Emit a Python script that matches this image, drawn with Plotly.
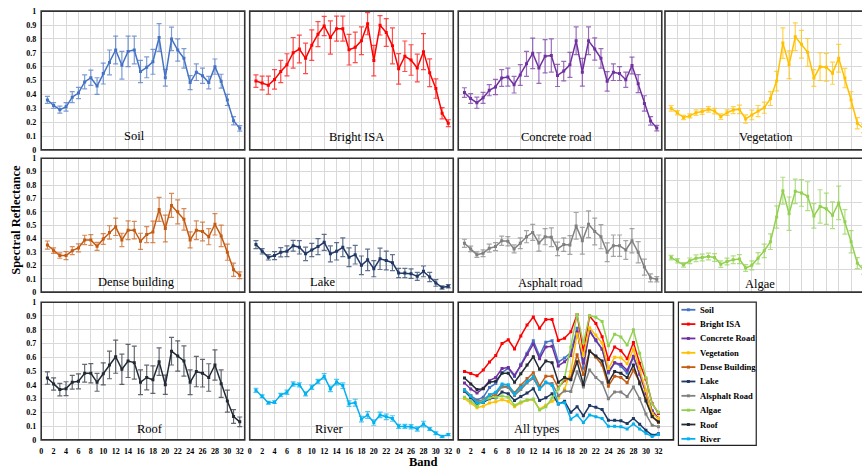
import plotly.graph_objects as go

W, H = 862, 473
bands = list(range(1, 33))

# Mean spectral reflectance per land-cover class and the standard deviations
soil = [0.36, 0.32, 0.29, 0.31, 0.38, 0.41, 0.49, 0.52, 0.46, 0.55, 0.63, 0.72, 0.61, 0.71, 0.72, 0.565,
        0.595, 0.635, 0.81, 0.52, 0.80, 0.72, 0.66, 0.485, 0.56, 0.535, 0.485, 0.60, 0.495, 0.36, 0.21, 0.155]
soil_err = [0.025, 0.02, 0.025, 0.03, 0.04, 0.04, 0.05, 0.055, 0.06, 0.075, 0.09, 0.1, 0.1, 0.11, 0.1, 0.08,
            0.075, 0.09, 0.1, 0.06, 0.085, 0.08, 0.07, 0.05, 0.06, 0.055, 0.045, 0.055, 0.05, 0.04, 0.03, 0.02]

bright_isa = [0.496, 0.482, 0.466, 0.508, 0.565, 0.613, 0.70, 0.727, 0.66, 0.755, 0.834, 0.893, 0.81, 0.874, 0.874, 0.722,
              0.739, 0.786, 0.91, 0.644, 0.898, 0.846, 0.75, 0.584, 0.675, 0.648, 0.59, 0.708, 0.556, 0.442, 0.264, 0.192]
bright_isa_err = [0.045, 0.05, 0.065, 0.07, 0.08, 0.08, 0.11, 0.1, 0.11, 0.11, 0.09, 0.07, 0.12, 0.09, 0.09, 0.11,
                  0.11, 0.1, 0.08, 0.11, 0.07, 0.1, 0.13, 0.11, 0.11, 0.11, 0.1, 0.13, 0.1, 0.07, 0.04, 0.025]

concrete = [0.413, 0.37, 0.34, 0.375, 0.43, 0.453, 0.518, 0.525, 0.47, 0.54, 0.62, 0.696, 0.59, 0.675, 0.68, 0.537,
            0.568, 0.613, 0.786, 0.56, 0.786, 0.727, 0.66, 0.494, 0.56, 0.55, 0.506, 0.608, 0.477, 0.335, 0.209, 0.157]
concrete_err = [0.035, 0.035, 0.04, 0.04, 0.04, 0.055, 0.06, 0.065, 0.06, 0.075, 0.09, 0.11, 0.11, 0.12, 0.12, 0.08,
                0.07, 0.09, 0.1, 0.1, 0.1, 0.08, 0.07, 0.07, 0.06, 0.05, 0.055, 0.06, 0.065, 0.055, 0.03, 0.02]

vegetation = [0.30, 0.268, 0.233, 0.245, 0.268, 0.276, 0.292, 0.28, 0.24, 0.268, 0.287, 0.292, 0.223, 0.252, 0.28, 0.304,
              0.37, 0.496, 0.77, 0.613, 0.815, 0.762, 0.703, 0.518, 0.60, 0.596, 0.553, 0.66, 0.518, 0.359, 0.192, 0.155]
vegetation_err = [0.02, 0.015, 0.015, 0.015, 0.02, 0.02, 0.02, 0.02, 0.02, 0.02, 0.025, 0.03, 0.03, 0.035, 0.04, 0.04,
                  0.05, 0.07, 0.11, 0.1, 0.1, 0.1, 0.1, 0.06, 0.1, 0.1, 0.08, 0.1, 0.07, 0.06, 0.04, 0.03]

dense_building = [0.352, 0.31, 0.273, 0.273, 0.31, 0.33, 0.39, 0.39, 0.342, 0.397, 0.446, 0.488, 0.39, 0.463, 0.463, 0.38,
                  0.43, 0.45, 0.618, 0.475, 0.648, 0.60, 0.544, 0.39, 0.463, 0.453, 0.414, 0.507, 0.42, 0.298, 0.167, 0.126]
dense_building_err = [0.03, 0.02, 0.02, 0.03, 0.03, 0.03, 0.035, 0.04, 0.03, 0.04, 0.05, 0.065, 0.05, 0.07, 0.065, 0.06,
                      0.06, 0.08, 0.09, 0.1, 0.09, 0.09, 0.08, 0.06, 0.07, 0.07, 0.06, 0.08, 0.08, 0.06, 0.05, 0.025]

lake = [0.355, 0.305, 0.26, 0.273, 0.298, 0.305, 0.347, 0.335, 0.286, 0.315, 0.34, 0.372, 0.286, 0.305, 0.335, 0.26,
        0.28, 0.20, 0.241, 0.175, 0.249, 0.236, 0.22, 0.143, 0.143, 0.138, 0.118, 0.155, 0.113, 0.069, 0.034, 0.044]
lake_err = [0.03, 0.02, 0.02, 0.03, 0.035, 0.04, 0.04, 0.05, 0.05, 0.05, 0.06, 0.06, 0.06, 0.065, 0.07, 0.07,
            0.07, 0.07, 0.08, 0.06, 0.08, 0.07, 0.06, 0.035, 0.035, 0.035, 0.03, 0.04, 0.035, 0.025, 0.012, 0.012]

asphalt = [0.365, 0.323, 0.28, 0.29, 0.328, 0.34, 0.384, 0.38, 0.323, 0.365, 0.414, 0.446, 0.367, 0.414, 0.41, 0.323,
           0.355, 0.352, 0.495, 0.384, 0.507, 0.453, 0.414, 0.298, 0.347, 0.347, 0.315, 0.384, 0.298, 0.187, 0.106, 0.096]
asphalt_err = [0.03, 0.02, 0.02, 0.025, 0.03, 0.03, 0.035, 0.035, 0.03, 0.04, 0.045, 0.06, 0.06, 0.06, 0.07, 0.05,
               0.05, 0.07, 0.1, 0.1, 0.1, 0.1, 0.09, 0.07, 0.08, 0.08, 0.07, 0.09, 0.08, 0.06, 0.03, 0.02]

algae = [0.31, 0.281, 0.245, 0.281, 0.304, 0.31, 0.319, 0.31, 0.251, 0.275, 0.29, 0.296, 0.216, 0.24, 0.304, 0.37,
         0.452, 0.674, 0.91, 0.703, 0.904, 0.89, 0.86, 0.683, 0.768, 0.748, 0.689, 0.80, 0.63, 0.452, 0.26, 0.20]
algae_err = [0.02, 0.02, 0.02, 0.025, 0.03, 0.03, 0.03, 0.035, 0.03, 0.03, 0.035, 0.04, 0.03, 0.04, 0.05, 0.06,
             0.07, 0.1, 0.12, 0.15, 0.11, 0.12, 0.13, 0.11, 0.15, 0.14, 0.12, 0.15, 0.11, 0.1, 0.05, 0.04]

roof = [0.449, 0.406, 0.365, 0.372, 0.418, 0.425, 0.484, 0.484, 0.418, 0.48, 0.544, 0.604, 0.513, 0.573, 0.561, 0.418,
        0.453, 0.437, 0.568, 0.40, 0.644, 0.609, 0.573, 0.418, 0.496, 0.484, 0.453, 0.544, 0.408, 0.282, 0.17, 0.131]
roof_err = [0.045, 0.045, 0.045, 0.05, 0.05, 0.055, 0.065, 0.07, 0.065, 0.08, 0.1, 0.12, 0.11, 0.12, 0.12, 0.09,
            0.09, 0.1, 0.1, 0.07, 0.1, 0.11, 0.11, 0.09, 0.11, 0.1, 0.1, 0.11, 0.1, 0.08, 0.05, 0.035]

river = [0.36, 0.317, 0.27, 0.274, 0.325, 0.346, 0.406, 0.40, 0.334, 0.382, 0.425, 0.461, 0.37, 0.42, 0.394, 0.263,
         0.27, 0.15, 0.181, 0.126, 0.181, 0.167, 0.155, 0.098, 0.098, 0.095, 0.079, 0.115, 0.079, 0.048, 0.024, 0.038]
river_err = [0.015, 0.01, 0.01, 0.01, 0.012, 0.015, 0.015, 0.015, 0.015, 0.015, 0.015, 0.02, 0.02, 0.02, 0.02, 0.02,
             0.025, 0.02, 0.025, 0.02, 0.02, 0.02, 0.02, 0.015, 0.015, 0.015, 0.015, 0.02, 0.01, 0.01, 0.008, 0.008]

panel_titles = ["Soil", "Bright ISA", "Concrete road", "Vegetation", "Dense building", "Lake",
                "Asphalt road", "Algae", "Roof", "River"]
legend_names = ["Soil", "Bright ISA", "Concrete Road", "Vegetation", "Dense Building", "Lake",
                "Alsphalt Road", "Algae", "Roof", "River"]
colors = ["#4472C4", "#FF0000", "#7030A0", "#FFC000", "#C55A11", "#203864",
          "#808080", "#92D050", "#222A35", "#00B0F0"]
means = [soil, bright_isa, concrete, vegetation, dense_building, lake, asphalt, algae, roof, river]
stds = [soil_err, bright_isa_err, concrete_err, vegetation_err, dense_building_err, lake_err,
        asphalt_err, algae_err, roof_err, river_err]
y_tick_labels = ["0", "0.1", "0.2", "0.3", "0.4", "0.5", "0.6", "0.7", "0.8", "0.9", "1"]
x_tick_labels = [str(v) for v in range(0, 33, 2)]

SERIF = "Liberation Serif"

# Panel frames in pixels: (left, right, top, bottom)
cols = [(39.3, 243.3), (248.3, 452.3), (457.3, 662.3), (664.5, 862.0)]
rows = [(7.3, 148.7), (157.3, 293.7), (304.0, 444.3)]
XMAX = 32.8
# panel -> (col, row)
grid = [(0, 0), (1, 0), (2, 0), (3, 0), (0, 1), (1, 1), (2, 1), (3, 1), (0, 2), (1, 2)]
# label anchor (pixel centre) for each panel title
label_px = [(133, 135), (355, 136), (556, 136), (766, 136), (135, 283), (321, 283),
            (550, 284), (760, 285), (148, 433), (328, 433)]


def hexa(c, a):
    c = c.lstrip("#")
    return "rgba(%d,%d,%d,%.2f)" % (int(c[0:2], 16), int(c[2:4], 16), int(c[4:6], 16), a)


fig = go.Figure()
layout = dict(
    width=W, height=H, margin=dict(l=0, r=0, t=0, b=0),
    paper_bgcolor="white", plot_bgcolor="white", showlegend=False,
    font=dict(family=SERIF, color="black"),
)
shapes = []
annotations = []


def add_axes(i, left, right, top, bottom, xmax, ymax, ydtick, show_y, show_x):
    xa = "xaxis" if i == 1 else "xaxis%d" % i
    ya = "yaxis" if i == 1 else "yaxis%d" % i
    layout[xa] = dict(
        domain=[left / W, right / W], range=[0, xmax], anchor="y" if i == 1 else "y%d" % i,
        tickmode="array", tickvals=list(range(0, 33, 2)), ticktext=x_tick_labels,
        showticklabels=show_x, showgrid=True, gridcolor="#D9D9D9", gridwidth=1,
        zeroline=False, showline=False, ticks="",
        tickfont=dict(family=SERIF, size=8, weight="bold", color="black"), ticklabelstandoff=5,
    )
    layout[ya] = dict(
        domain=[1 - bottom / H, 1 - top / H], range=[0, ymax], anchor="x" if i == 1 else "x%d" % i,
        dtick=ydtick, tick0=0, showticklabels=show_y, showgrid=True, gridcolor="#D9D9D9", gridwidth=1,
        zeroline=False, showline=False, ticks="",
        tickmode="array" if show_y else "linear",
        tickfont=dict(family=SERIF, size=8, weight="bold", color="black"), ticklabelstandoff=4,
    )
    if show_y:
        layout[ya]["tickvals"] = [k / 10 for k in range(11)]
        layout[ya]["ticktext"] = y_tick_labels


for k in range(10):
    i = k + 1
    c, r = grid[k]
    left, right = cols[c]
    top, bottom = rows[r]
    full_right = left + 204.0
    xmax = XMAX * (right - left) / (full_right - left)
    ymax = 1.2 if panel_titles[k] == "Algae" else 1.0
    ydtick = 0.2 if panel_titles[k] == "Algae" else 0.1
    add_axes(i, left, right, top, bottom, xmax, ymax, ydtick, c == 0, r == 2)
    xr = "x" if i == 1 else "x%d" % i
    yr = "y" if i == 1 else "y%d" % i
    fig.add_trace(go.Scatter(
        x=bands, y=means[k], xaxis=xr, yaxis=yr, mode="lines+markers",
        line=dict(color=colors[k], width=1.5),
        marker=dict(symbol="square", size=3, color=colors[k]),
        error_y=dict(type="data", array=stds[k], color=hexa(colors[k], 0.7), thickness=1.2, width=2.5),
        name=panel_titles[k],
    ))
    shapes.append(dict(type="rect", xref="paper", yref="paper",
                       x0=left / W, x1=full_right / W, y0=1 - bottom / H, y1=1 - top / H,
                       line=dict(color="#333333", width=1.6), layer="above"))
    lx, ly = label_px[k]
    annotations.append(dict(x=lx / W, y=1 - ly / H, xref="paper", yref="paper", text=panel_titles[k],
                            showarrow=False, xanchor="center", yanchor="middle",
                            font=dict(family=SERIF, size=12.5, color="black")))

# Combined panel with every class
left, right = 457.3, 673.0
top, bottom = rows[2]
add_axes(11, left, right, top, bottom, 34.4, 1.0, 0.1, False, True)
for k in range(10):
    fig.add_trace(go.Scatter(
        x=bands, y=means[k], xaxis="x11", yaxis="y11", mode="lines+markers",
        line=dict(color=colors[k], width=1.5),
        marker=dict(symbol="square", size=3, color=colors[k]),
        name=legend_names[k],
    ))
shapes.append(dict(type="rect", xref="paper", yref="paper",
                   x0=left / W, x1=right / W, y0=1 - bottom / H, y1=1 - top / H,
                   line=dict(color="#222222", width=1.6), layer="above"))
annotations.append(dict(x=536 / W, y=1 - 433 / H, xref="paper", yref="paper", text="All types",
                        showarrow=False, xanchor="center", yanchor="middle",
                        font=dict(family=SERIF, size=12.5, color="black")))

# Legend box for the combined panel
lg_left, lg_right, lg_top, lg_bottom = 678.0, 756.0, 304.0, 450.0
shapes.append(dict(type="rect", xref="paper", yref="paper",
                   x0=lg_left / W, x1=lg_right / W, y0=1 - lg_bottom / H, y1=1 - lg_top / H,
                   line=dict(color="#222222", width=1.2), fillcolor="white", layer="above"))
for k in range(10):
    yc = 311.7 + 14.62 * k
    shapes.append(dict(type="line", xref="paper", yref="paper",
                       x0=681 / W, x1=695 / W, y0=1 - yc / H, y1=1 - yc / H,
                       line=dict(color=colors[k], width=1.8), layer="above"))
    shapes.append(dict(type="rect", xref="paper", yref="paper",
                       x0=686.5 / W, x1=689.5 / W, y0=1 - (yc + 1.5) / H, y1=1 - (yc - 1.5) / H,
                       line=dict(color=colors[k], width=0), fillcolor=colors[k], layer="above"))
    annotations.append(dict(x=697.5 / W, y=1 - yc / H, xref="paper", yref="paper", text=legend_names[k],
                            showarrow=False, xanchor="left", yanchor="middle",
                            font=dict(family=SERIF, size=8.6, weight="bold", color="black")))

# Shared axis titles
annotations.append(dict(x=14 / W, y=1 - 220 / H, xref="paper", yref="paper", text="Spectral Reflectance",
                        textangle=-90, showarrow=False, xanchor="center", yanchor="middle",
                        font=dict(family=SERIF, size=12.5, weight="bold", color="black")))
annotations.append(dict(x=422 / W, y=1 - 466.5 / H, xref="paper", yref="paper", text="Band",
                        showarrow=False, xanchor="center", yanchor="middle",
                        font=dict(family=SERIF, size=12.5, weight="bold", color="black")))

layout["shapes"] = shapes
layout["annotations"] = annotations
fig.update_layout(**layout)
fig.write_html("out.html")
